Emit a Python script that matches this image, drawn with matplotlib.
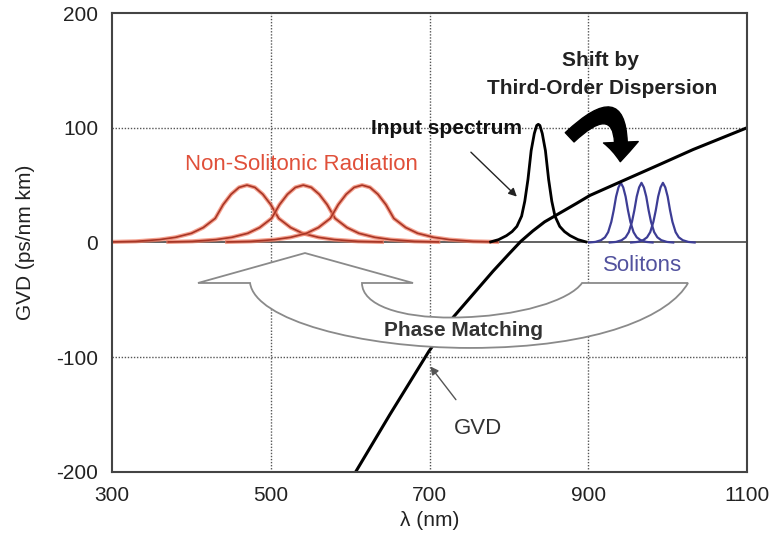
import numpy as np
import matplotlib
matplotlib.use("Agg")
import matplotlib.pyplot as plt
from matplotlib.path import Path
from matplotlib.patches import PathPatch, FancyArrowPatch

plt.rcParams['font.family'] = ['Liberation Sans', 'DejaVu Sans']
plt.rcParams['axes.unicode_minus'] = False

# group velocity dispersion of the fibre
gvd_wl = [606, 650, 699, 730, 760, 780, 800, 815, 830, 845, 865, 885, 902,
          941, 990, 1032, 1100]
gvd_val = [-201, -150, -95, -65, -41, -25, -10, 1, 10, 18, 26, 34, 41,
           53, 68, 81, 100]

# pump pulse (input spectrum)
pump_center = 837
pump_offsets = [-60, -50, -40, -33, -27, -21, -17, -13, -9, -5, -2, 0,
                2, 5, 9, 13, 17, 21, 27, 33, 40, 50, 60]
pump_profile = [0.5, 2.5, 6, 9.5, 14, 23, 36, 55, 80, 95, 102, 103,
                102, 95, 80, 55, 36, 23, 14, 9.5, 6, 2.5, 0.5]

# dispersive waves (non-solitonic radiation)
rad_centers = [470, 541, 615]
rad_offsets = [-170, -140, -110, -90, -70, -55, -40, -30, -20, -10, 0,
               10, 20, 30, 40, 55, 70, 90, 110, 140, 170]
rad_profile = [0.5, 1, 2.5, 4.5, 8, 13, 21, 33, 42, 48, 50,
               48, 42, 33, 21, 13, 8, 4.5, 2.5, 1, 0.5]

# red-shifted solitons
sol_centers = [941, 967, 994]
sol_offsets = [-40, -32, -25, -20, -16, -12, -9, -6, -3, 0,
               3, 6, 9, 12, 16, 20, 25, 32, 40]
sol_profile = [0, 0.5, 2, 4.5, 9, 18, 28, 40, 48, 52,
               48, 40, 28, 18, 9, 4.5, 2, 0.5, 0]

xticks = [300, 500, 700, 900, 1100]
yticks = [-200, -100, 0, 100, 200]

fig = plt.figure(figsize=(7.79, 5.44), dpi=100)
ax = fig.add_axes([0.1438, 0.1324, 0.8152, 0.8437])
ax.set_xlim(300, 1100)
ax.set_ylim(-200, 200)
ax.set_xticks(xticks)
ax.set_yticks(yticks)
ax.tick_params(length=0, labelsize=15, pad=10, colors='#222')
for sp in ax.spines.values():
    sp.set_color('#444')
    sp.set_linewidth(1.5)

for x in [500, 700, 900]:
    ax.axvline(x, color='#555', lw=1.0, ls=(0, (1, 1.2)), zorder=1)
for y in [100, -100]:
    ax.axhline(y, color='#555', lw=1.0, ls=(0, (1, 1.2)), zorder=1)
ax.axhline(0, color='#555', lw=1.3, zorder=1)

ax.set_xlabel('λ (nm)', fontsize=15, color='#222')
ax.xaxis.set_label_coords(0.5, -0.085)
ax.set_ylabel('GVD (ps/nm km)', fontsize=15, color='#222')
ax.yaxis.set_label_coords(-0.122, 0.5)

# spectra
for c in rad_centers:
    wl = np.add(rad_offsets, c)
    ax.plot(wl, rad_profile, color='#f07a60', lw=3.0, alpha=0.7, zorder=2)
    ax.plot(wl, rad_profile, color='#a83525', lw=1.2, zorder=2)
for c in sol_centers:
    ax.plot(np.add(sol_offsets, c), sol_profile, color='#3d3d95', lw=1.6, zorder=2)
ax.plot(np.add(pump_offsets, pump_center), pump_profile, color='black', lw=2.0, zorder=2)
ax.plot(gvd_wl, gvd_val, color='black', lw=2.2, zorder=2)

# phase matching arrow outline
verts = [(543.1, -9.2), (408.3, -35.3), (473.9, -35.3),
         (480.2, -67.5), (612.4, -91.9), (751.0, -91.9),
         (914.8, -91.9), (1003.0, -63.2), (1025.6, -35.3),
         (892.1, -35.3),
         (877.0, -50.1), (814.0, -64.9), (729.6, -65.4),
         (662.8, -65.8), (614.9, -54.5), (614.9, -35.3),
         (679.2, -35.3), (543.1, -9.2)]
codes = [Path.MOVETO, Path.LINETO, Path.LINETO,
         Path.CURVE4, Path.CURVE4, Path.CURVE4,
         Path.CURVE4, Path.CURVE4, Path.CURVE4,
         Path.LINETO,
         Path.CURVE4, Path.CURVE4, Path.CURVE4,
         Path.CURVE4, Path.CURVE4, Path.CURVE4,
         Path.LINETO, Path.CLOSEPOLY]
ax.add_patch(PathPatch(Path(verts, codes), facecolor='white',
                       edgecolor='#8a8a8a', lw=1.3, zorder=3))
ax.text(743, -77, 'Phase Matching', fontsize=15, fontweight='bold',
        color='#333', ha='center', va='center', zorder=4)

# curved arrow for the soliton self-frequency shift
ax.add_patch(FancyArrowPatch((874, 90), (940, 68),
                             connectionstyle='arc3,rad=-1.35',
                             arrowstyle='simple,head_length=0.7,head_width=1.25,tail_width=0.46',
                             mutation_scale=20, color='black', zorder=4))
ax.text(915, 159, 'Shift by', fontsize=15, fontweight='bold', color='#222',
        ha='center', va='center')
ax.text(917, 134, 'Third-Order Dispersion', fontsize=15, fontweight='bold',
        color='#222', ha='center', va='center')

ax.annotate('Input spectrum', xy=(810, 40), xytext=(721, 99.5),
            fontsize=15, fontweight='bold', color='#111', ha='center', va='center',
            arrowprops=dict(arrowstyle='-|>', color='#222', lw=1.0,
                            shrinkA=12, shrinkB=0, mutation_scale=12))
ax.annotate('GVD', xy=(701, -108), xytext=(761, -162),
            fontsize=16, color='#333', ha='center', va='center',
            arrowprops=dict(arrowstyle='-|>', color='#555', lw=1.0,
                            shrinkA=14, shrinkB=0, mutation_scale=12))

ax.text(539, 68, 'Non-Solitonic Radiation', fontsize=16, color='#e0503a',
        ha='center', va='center')
ax.text(968, -20, 'Solitons', fontsize=16, color='#52529e',
        ha='center', va='center')

fig.savefig('out.png', dpi=100)
